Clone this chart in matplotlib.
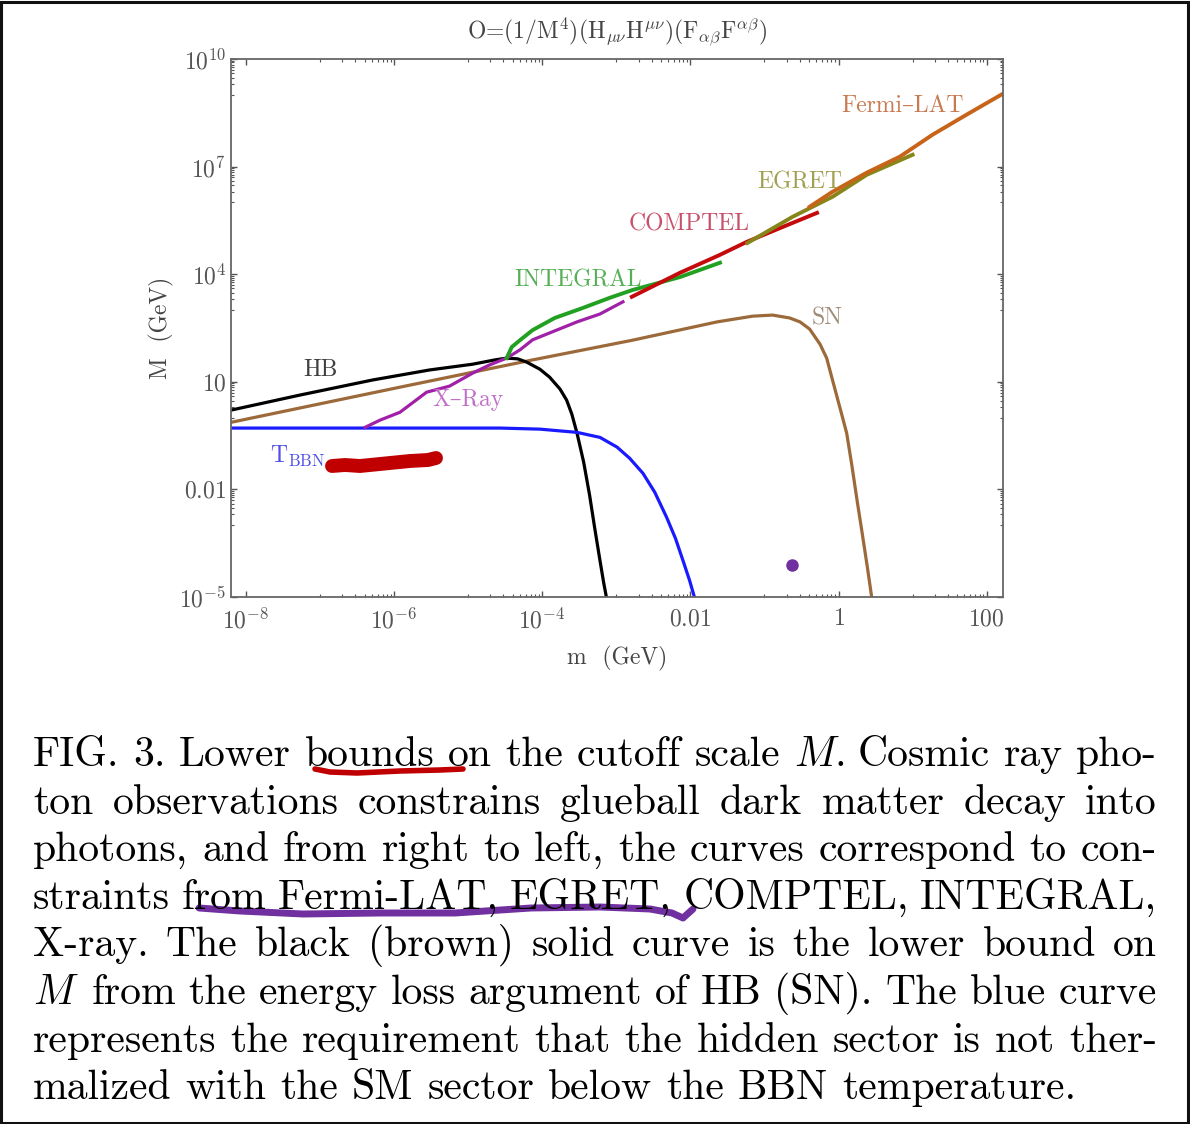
import numpy as np
import matplotlib
matplotlib.use('Agg')
import matplotlib.pyplot as plt
import matplotlib.ticker as ticker
from matplotlib.patches import Rectangle
from matplotlib.lines import Line2D

matplotlib.rcParams.update({'font.family': ['cmr10', 'DejaVu Serif'], 'mathtext.fontset': 'cm',
                            'axes.unicode_minus': False, 'axes.formatter.use_mathtext': True})

# curves as log10(m), log10(M)
hb_logm = [-8.20, -7.27, -6.29, -5.52, -4.94, -4.64, -4.48, -4.33, -4.21, -4.03, -3.90, -3.76,
           -3.67, -3.60, -3.53, -3.44, -3.36, -3.29, -3.22, -3.17, -3.13]
hb_logM = [0.21, 0.63, 1.05, 1.33, 1.49, 1.61, 1.66, 1.64, 1.55, 1.35, 1.13, 0.80,
           0.49, 0.10, -0.43, -1.24, -2.16, -3.09, -3.98, -4.60, -5.04]

sn_logm = [-8.20, -5.92, -4.13, -2.78, -1.64, -1.16, -0.89, -0.66, -0.52, -0.39, -0.25, -0.16,
           -0.08, 0.02, 0.11, 0.18, 0.25, 0.32, 0.39, 0.45]
sn_logM = [-0.13, 0.85, 1.61, 2.16, 2.67, 2.83, 2.86, 2.78, 2.67, 2.47, 2.05, 1.66,
           1.04, 0.27, -0.43, -1.33, -2.30, -3.23, -4.18, -5.04]

bbn_logm = [-8.20, -6.0, -4.57, -4.03, -3.53, -3.22, -2.99, -2.82, -2.64, -2.48, -2.32, -2.20,
            -2.10, -2.01, -1.94]
bbn_logM = [-0.29, -0.29, -0.29, -0.32, -0.41, -0.55, -0.82, -1.13, -1.55, -2.08, -2.78, -3.37,
            -3.98, -4.54, -5.04]

xray_logm = [-6.39, -6.19, -5.92, -5.56, -5.25, -4.94, -4.71, -4.48, -4.30, -4.13, -3.53, -3.22, -2.91]
xray_logM = [-0.27, -0.07, 0.15, 0.71, 0.88, 1.24, 1.47, 1.66, 1.89, 2.17, 2.67, 2.89, 3.23]

integral_logm = [-4.48, -4.41, -4.30, -4.13, -3.83, -3.45, -3.09, -2.78, -2.14, -1.60]
integral_logM = [1.66, 1.97, 2.16, 2.44, 2.78, 3.06, 3.34, 3.56, 3.92, 4.32]

comptel_logm = [-2.79, -2.14, -1.60, -1.24, -0.75, -0.29]
comptel_logM = [3.37, 4.04, 4.54, 4.90, 5.32, 5.71]

egret_logm = [-1.23, -0.62, -0.08, 0.38, 1.00]
egret_logM = [4.87, 5.60, 6.16, 6.77, 7.33]

fermi_logm = [-0.39, -0.08, 0.38, 0.83, 1.27, 1.73, 2.20]
fermi_logM = [5.88, 6.30, 6.83, 7.28, 7.89, 8.45, 9.01]

x_major = [1e-8, 1e-6, 1e-4, 1e-2, 1, 100]
x_labels = [r'$10^{-8}$', r'$10^{-6}$', r'$10^{-4}$', r'$0.01$', r'$1$', r'$100$']
y_major = [1e-5, 1e-2, 10, 1e4, 1e7, 1e10]
y_labels = [r'$10^{-5}$', r'$0.01$', r'$10$', r'$10^{4}$', r'$10^{7}$', r'$10^{10}$']

caption_lines = [
    "FIG. 3. Lower bounds on the cutoff scale $M$. Cosmic ray pho-",
    "ton observations constrains glueball dark matter decay into",
    "photons, and from right to left, the curves correspond to con-",
    "straints from Fermi-LAT, EGRET, COMPTEL, INTEGRAL,",
    "X-ray.  The black (brown) solid curve is the lower bound on",
    "$M$ from the energy loss argument of HB (SN). The blue curve",
    "represents the requirement that the hidden sector is not ther-",
    "malized with the SM sector below the BBN temperature.",
]

W, H = 1190, 1124
fig = plt.figure(figsize=(W / 100, H / 100), dpi=100)
ax = fig.add_axes([231 / W, 1 - 597 / H, 772 / W, 538 / H])

p = lambda a: 10 ** np.array(a)
ax.plot(p(sn_logm), p(sn_logM), color='#9c6a3a', lw=2.3)
ax.plot(p(hb_logm), p(hb_logM), color='black', lw=2.3)
ax.plot(p(bbn_logm), p(bbn_logM), color='#1a1aff', lw=2.3)
ax.plot(p(xray_logm), p(xray_logM), color='#a020a8', lw=2.3)
ax.plot(p(integral_logm), p(integral_logM), color='#22a022', lw=2.8)
ax.plot(p(comptel_logm), p(comptel_logM), color='#c40a0a', lw=2.8)
ax.plot(p(egret_logm), p(egret_logM), color='#86861a', lw=2.8)
ax.plot(p(fermi_logm), p(fermi_logM), color='#c8641a', lw=2.8)

ax.set_xscale('log')
ax.set_yscale('log')
ax.set_xlim(10 ** -8.20, 10 ** 2.22)
ax.set_ylim(1e-5, 1e10)

ax.xaxis.set_major_locator(ticker.FixedLocator(x_major))
ax.xaxis.set_major_formatter(ticker.FixedFormatter(x_labels))
ax.yaxis.set_major_locator(ticker.FixedLocator(y_major))
ax.yaxis.set_major_formatter(ticker.FixedFormatter(y_labels))
xminor = [k * v / 10 for v in x_major[1:] for k in range(1, 10)]
yminor = [k * v / 10 for v in y_major for k in range(1, 10)]
ax.xaxis.set_minor_locator(ticker.FixedLocator(xminor))
ax.yaxis.set_minor_locator(ticker.FixedLocator(yminor))
ax.xaxis.set_minor_formatter(ticker.NullFormatter())
ax.yaxis.set_minor_formatter(ticker.NullFormatter())
ax.tick_params(which='both', direction='in', top=True, right=True, color='#555555')
ax.tick_params(which='major', length=4, width=1, labelsize=17, labelcolor='#555555')
ax.tick_params(axis='x', which='major', pad=8)
ax.tick_params(which='minor', length=2, width=0.8)
for s in ax.spines.values():
    s.set_color('#666666')
    s.set_linewidth(1.3)

ax.set_title(r'O=(1/M$^{4}$)(H$_{\mu\nu}$H$^{\mu\nu}$)(F$_{\alpha\beta}$F$^{\alpha\beta}$)',
             fontsize=17, color='#444444', pad=15)
ax.set_xlabel('m  (GeV)', fontsize=17, color='#444444', labelpad=9)
ax.set_ylabel('M  (GeV)', fontsize=17, color='#444444', labelpad=4)

lab = dict(fontsize=17, ha='center', va='center')
ax.text(10 ** 0.87, 10 ** 8.70, 'Fermi\u2013LAT', color='#c87a50', **lab)
ax.text(10 ** -0.52, 10 ** 6.55, 'EGRET', color='#a0a050', **lab)
ax.text(10 ** -2.01, 10 ** 5.38, 'COMPTEL', color='#c8506a', **lab)
ax.text(10 ** -3.52, 10 ** 3.84, 'INTEGRAL', color='#55b055', **lab)
ax.text(10 ** -0.15, 10 ** 2.78, 'SN', color='#a08c78', **lab)
ax.text(10 ** -6.99, 10 ** 1.33, 'HB', color='#404040', **lab)
ax.text(10 ** -5.00, 10 ** 0.49, 'X\u2013Ray', color='#c070c8', **lab)
ax.text(10 ** -7.30, 10 ** -1.07, r'T$_{\mathrm{BBN}}$', color='#5050e8', **lab)

# purple dot marked on the plot
ax.plot([10 ** -0.63], [10 ** -4.1], 'o', color='#7030a0', ms=8)

# hand-drawn marks (figure pixels)
def stroke(xs, ys, color, lw):
    fig.add_artist(Line2D(np.array(xs) / W, 1 - np.array(ys) / H, color=color, lw=lw,
                          solid_capstyle='round', solid_joinstyle='round'))

stroke([332, 345, 360, 380, 410, 428, 436], [466, 465, 466, 464, 461, 460, 458], '#c00000', 10)
stroke([315, 330, 357, 400, 440, 463], [769, 772, 773, 771, 770, 769], '#c00000', 4)
stroke([199, 240, 303, 380, 455, 531, 600, 650, 672, 683, 693],
       [908, 911, 914, 913, 913, 908, 907, 909, 913, 918, 909], '#7030a0', 5)

# caption, justified between x0 and x1
fig.canvas.draw()
r = fig.canvas.get_renderer()
x0, x1 = 33, 1157
fs = 30
for i, line in enumerate(caption_lines):
    yb = 1 - (766 + i * 47.6) / H
    words = line.split()
    ts = [fig.text(0, yb, w, fontsize=fs, color='black', va='baseline') for w in words]
    ws = [t.get_window_extent(r).width for t in ts]
    if i < len(caption_lines) - 1:
        gap = (x1 - x0 - sum(ws)) / (len(words) - 1)
    else:
        gap = fs * 100 / 72 * 0.333
    x = x0
    for t, w in zip(ts, ws):
        t.set_x(x / W)
        x += w + gap

fig.add_artist(Rectangle((1 / W, 1 / H), 1 - 3 / W, 1 - 3 / H, transform=fig.transFigure,
                         fill=False, edgecolor='#111111', lw=2.2))

fig.savefig('out.png', dpi=100)
